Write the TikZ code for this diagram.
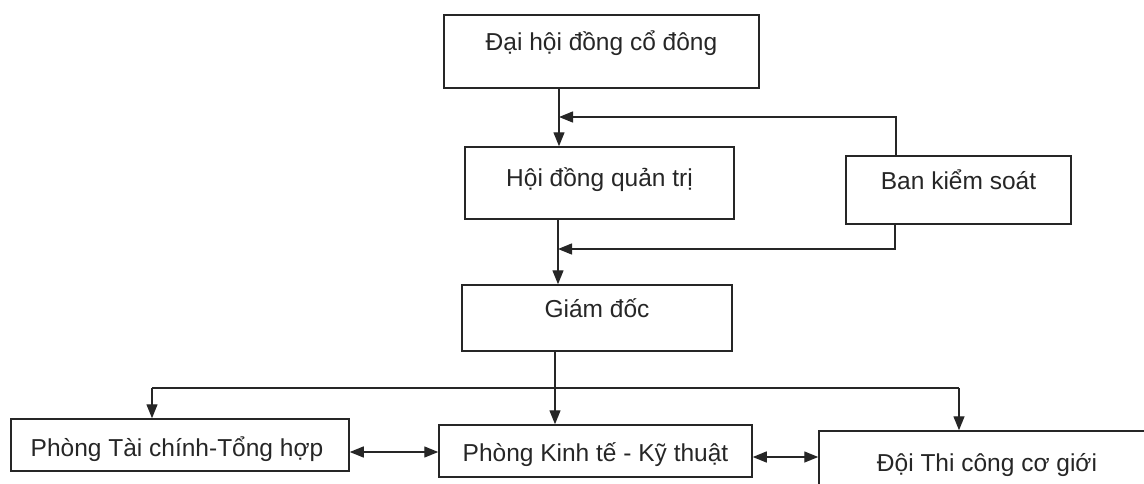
\documentclass[tikz,border=0pt]{standalone}
\usepackage{fontspec}
\setmainfont{Liberation Sans}
\usetikzlibrary{arrows.meta}
\begin{document}
\begin{tikzpicture}[x=1pt,y=-1pt,
  box/.style={draw=black!85, line width=1.5pt, inner xsep=0pt, inner ysep=0pt,
    font=\fontsize{24.5}{28}\selectfont, text=black!85},
  tip/.tip={Triangle[length=14pt,width=11pt]},
  arr/.style={line width=1.4pt, draw=black!85, -tip},
  darr/.style={line width=1.4pt, draw=black!85, tip-tip},
  ln/.style={line width=1.4pt, draw=black!85}]
\useasboundingbox (0,0) rectangle (1144,483);
\clip (0,0) rectangle (1144,483);
\node[box, minimum width=315pt, text height=35pt, text depth=38pt] (dh) at (601.5,51.5) {Đại hội đồng cổ đông};
\node[box, minimum width=269pt, text height=39pt, text depth=33pt] (hd) at (599.5,183) {Hội đồng quản trị};
\node[box, minimum width=225pt, text height=33pt, text depth=35pt] (bks) at (958.5,190) {Ban kiểm soát};
\node[box, minimum width=270pt, text height=32pt, text depth=34pt] (gd) at (597,318) {Giám đốc};
\node[box, minimum width=338pt, text height=37pt, text depth=15pt, xshift=-3pt] (tc) at (183,445) {Phòng Tài chính-Tổng hợp\hspace*{6pt}};
\node[box, minimum width=313pt, text height=36pt, text depth=16pt] (pkt) at (595.5,451) {Phòng Kinh tế - Kỹ thuật};
\node[box, minimum width=336pt, text height=40pt, text depth=29pt] (doi) at (987,465.5) {Đội Thi công cơ giới};
\coordinate (c1) at (559,117);
\coordinate (c2) at (896,117);
\coordinate (c3) at (558,249);
\coordinate (c4) at (895,249);
\coordinate (c5) at (555,388);
\coordinate (c6) at (152,388);
\coordinate (c7) at (959,388);
\coordinate (y8) at (0,452);
\coordinate (y9) at (0,457);
\draw[arr] (dh.south -| c1) -- (hd.north -| c1);
\draw[arr] (c2 |- bks.north) -- (c2) -- (c1);
\draw[arr] (hd.south -| c3) -- (gd.north -| c3);
\draw[arr] (c4 |- bks.south) -- (c4) -- (c3);
\draw[arr] (gd.south -| c5) -- (pkt.north -| c5);
\draw[ln] (c6) -- (c7);
\draw[arr] (c6) -- (tc.north -| c6);
\draw[arr] (c7) -- (doi.north -| c7);
\draw[darr] (tc.east |- y8) -- (pkt.west |- y8);
\draw[darr] (pkt.east |- y9) -- (doi.west |- y9);
\end{tikzpicture}
\end{document}
